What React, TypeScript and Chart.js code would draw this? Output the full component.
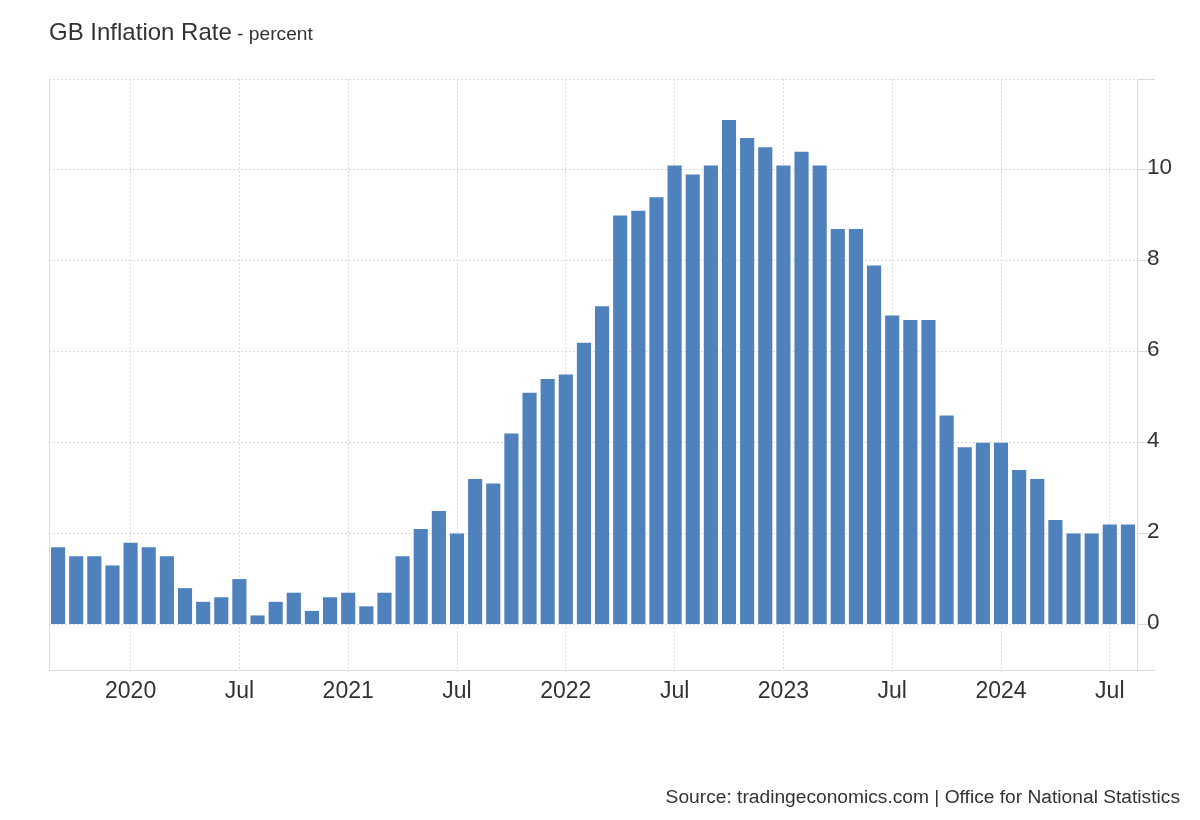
import React, { useEffect, useRef } from "react";
import { Chart, registerables } from "chart.js";

Chart.register(...registerables);

const months: string[] = [
  "Sep 2019", "Oct 2019", "Nov 2019", "Dec 2019",
  "Jan 2020", "Feb 2020", "Mar 2020", "Apr 2020", "May 2020", "Jun 2020",
  "Jul 2020", "Aug 2020", "Sep 2020", "Oct 2020", "Nov 2020", "Dec 2020",
  "Jan 2021", "Feb 2021", "Mar 2021", "Apr 2021", "May 2021", "Jun 2021",
  "Jul 2021", "Aug 2021", "Sep 2021", "Oct 2021", "Nov 2021", "Dec 2021",
  "Jan 2022", "Feb 2022", "Mar 2022", "Apr 2022", "May 2022", "Jun 2022",
  "Jul 2022", "Aug 2022", "Sep 2022", "Oct 2022", "Nov 2022", "Dec 2022",
  "Jan 2023", "Feb 2023", "Mar 2023", "Apr 2023", "May 2023", "Jun 2023",
  "Jul 2023", "Aug 2023", "Sep 2023", "Oct 2023", "Nov 2023", "Dec 2023",
  "Jan 2024", "Feb 2024", "Mar 2024", "Apr 2024", "May 2024", "Jun 2024",
  "Jul 2024", "Aug 2024",
];

const inflation: number[] = [
  1.7, 1.5, 1.5, 1.3,
  1.8, 1.7, 1.5, 0.8, 0.5, 0.6,
  1.0, 0.2, 0.5, 0.7, 0.3, 0.6,
  0.7, 0.4, 0.7, 1.5, 2.1, 2.5,
  2.0, 3.2, 3.1, 4.2, 5.1, 5.4,
  5.5, 6.2, 7.0, 9.0, 9.1, 9.4,
  10.1, 9.9, 10.1, 11.1, 10.7, 10.5,
  10.1, 10.4, 10.1, 8.7, 8.7, 7.9,
  6.8, 6.7, 6.7, 4.6, 3.9, 4.0,
  4.0, 3.4, 3.2, 2.3, 2.0, 2.0,
  2.2, 2.2,
];

const xTickLabels: Record<string, string> = {
  "Jan 2020": "2020", "Jul 2020": "Jul",
  "Jan 2021": "2021", "Jul 2021": "Jul",
  "Jan 2022": "2022", "Jul 2022": "Jul",
  "Jan 2023": "2023", "Jul 2023": "Jul",
  "Jan 2024": "2024", "Jul 2024": "Jul",
};

const yTickValues: number[] = [-1, 0, 2, 4, 6, 8, 10, 12];
const yTickLabels: Record<number, string> = {
  0: "0", 2: "2", 4: "4", 6: "6", 8: "8", 10: "10",
};

const FONT = '"Liberation Sans", Arial, Helvetica, sans-serif';
const GRID = "#dadada";

export default function App() {
  const canvasRef = useRef<HTMLCanvasElement | null>(null);

  useEffect(() => {
    const canvas = canvasRef.current;
    if (!canvas) return;
    Chart.defaults.font.family = FONT;

    const leftBorder = {
      id: "leftBorder",
      afterDraw(chart: any) {
        const { ctx, chartArea } = chart;
        ctx.save();
        ctx.strokeStyle = GRID;
        ctx.lineWidth = 1;
        ctx.beginPath();
        ctx.moveTo(chartArea.left + 0.5, chartArea.top);
        ctx.lineTo(chartArea.left + 0.5, chartArea.bottom);
        ctx.stroke();
        ctx.restore();
      },
    };

    const chart = new Chart(canvas, {
      type: "bar",
      data: {
        labels: months,
        datasets: [
          {
            data: inflation,
            backgroundColor: "#4f81bd",
            borderWidth: 0,
            barPercentage: 0.78,
            categoryPercentage: 1,
          },
        ],
      },
      options: {
        animation: false,
        responsive: false,
        maintainAspectRatio: false,
        layout: { padding: { left: 49, right: 0, top: 79, bottom: 100 } },
        plugins: {
          legend: { display: false },
          title: { display: false },
          tooltip: { enabled: false },
        },
        scales: {
          x: {
            type: "category",
            offset: true,
            grid: {
              offset: false,
              drawTicks: false,
              color: (ctx: any) =>
                xTickLabels[months[ctx.index]] ? GRID : "rgba(0,0,0,0)",
            },
            border: { display: true, color: GRID, dash: [2, 2] },
            ticks: {
              autoSkip: false,
              maxRotation: 0,
              minRotation: 0,
              padding: 8,
              color: "#333333",
              font: { size: 23, family: FONT },
              callback: (_v: any, i: number) => xTickLabels[months[i]] || "",
            },
            afterFit: (scale: any) => {
              scale.height = 50;
            },
          },
          y: {
            type: "linear",
            position: "right",
            min: -1,
            max: 12,
            afterBuildTicks: (scale: any) => {
              scale.ticks = yTickValues.map((v) => ({ value: v }));
            },
            grid: {
              color: GRID,
              tickColor: GRID,
              drawTicks: true,
              tickLength: 18,
            },
            border: { display: true, color: GRID, dash: [2, 2] },
            ticks: {
              padding: -8,
              color: "#333333",
              font: { size: 22.5, family: FONT, lineHeight: "4px" },
              callback: (v: any) => {
                const t = yTickLabels[v as number];
                return t ? [t, ""] : "";
              },
            },
            afterFit: (scale: any) => {
              scale.width = 63;
            },
          },
        },
      },
      plugins: [leftBorder],
    });

    return () => {
      chart.destroy();
    };
  }, []);

  return (
    <div
      style={{
        position: "absolute",
        left: 0,
        top: 0,
        width: 1200,
        height: 820,
        background: "#ffffff",
        fontFamily: FONT,
        color: "#333333",
        overflow: "hidden",
      }}
    >
      <canvas
        ref={canvasRef}
        width={1200}
        height={820}
        style={{ position: "absolute", left: 0, top: 0, width: 1200, height: 820 }}
      />
      <div
        style={{
          position: "absolute",
          left: 49,
          top: 20,
          fontSize: 24,
          lineHeight: "24px",
          whiteSpace: "nowrap",
          color: "#333333",
        }}
      >
        GB Inflation Rate<span style={{ fontSize: 19.2 }}> - percent</span>
      </div>
      <div
        style={{
          position: "absolute",
          right: 20,
          top: 787,
          fontSize: 19.2,
          lineHeight: "19px",
          whiteSpace: "nowrap",
          color: "#333333",
        }}
      >
        Source: tradingeconomics.com | Office for National Statistics
      </div>
    </div>
  );
}
